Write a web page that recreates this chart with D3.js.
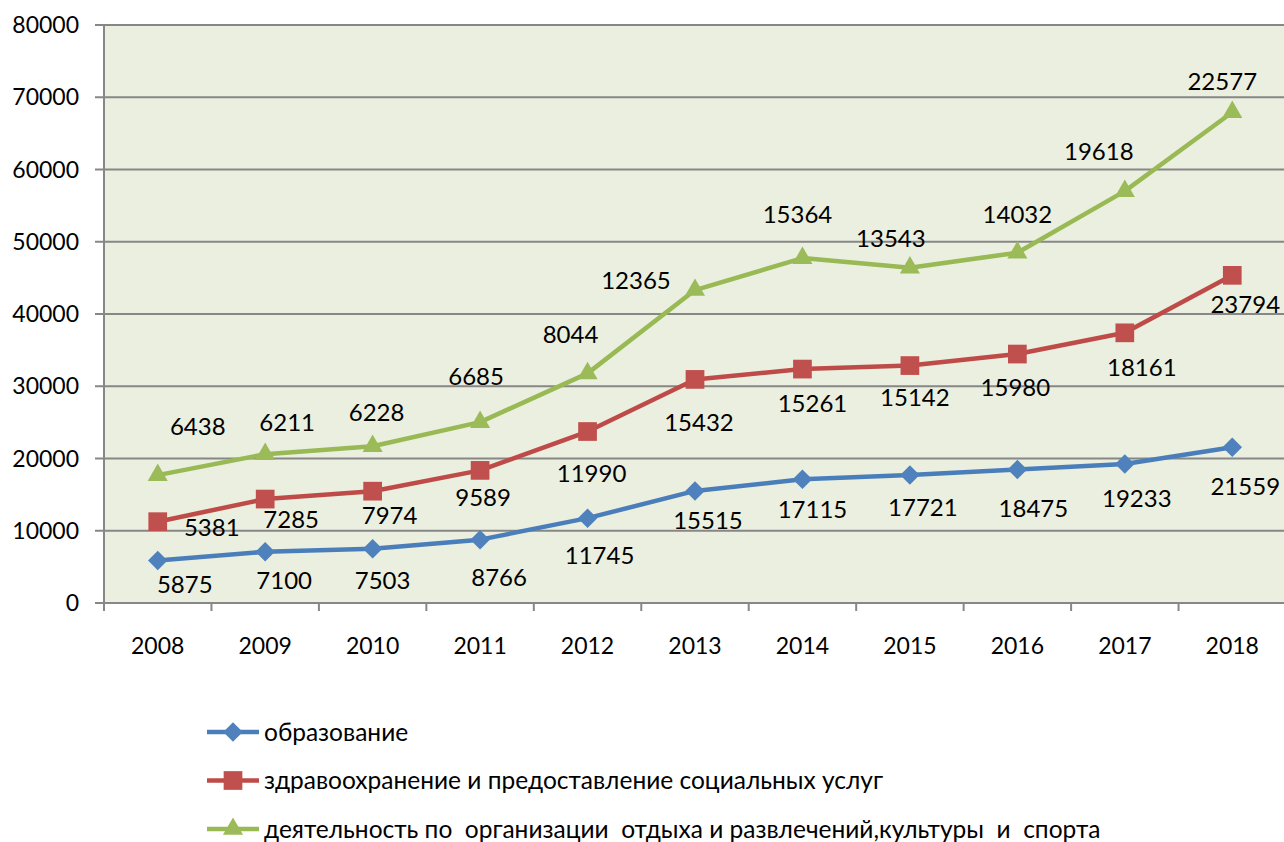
<!DOCTYPE html>
<html>
<head>
<meta charset="utf-8">
<script src="https://cdn.jsdelivr.net/npm/d3@7"></script>
<style>
  body { margin: 0; background: #fff; }
  text { font-family: Lato, "Open Sans", sans-serif; fill: #000; }
</style>
</head>
<body>
<script>
var years = ["2008", "2009", "2010", "2011", "2012", "2013", "2014", "2015", "2016", "2017", "2018"];
var education = [5875, 7100, 7503, 8766, 11745, 15515, 17115, 17721, 18475, 19233, 21559];
var health = [5381, 7285, 7974, 9589, 11990, 15432, 15261, 15142, 15980, 18161, 23794];
var leisure = [6438, 6211, 6228, 6685, 8044, 12365, 15364, 13543, 14032, 19618, 22577];
var seriesNames = [
    "образование",
    "здравоохранение и предоставление социальных услуг",
    "деятельность по  организации  отдыха и развлечений,культуры  и  спорта"
];
var yTicks = [0, 10000, 20000, 30000, 40000, 50000, 60000, 70000, 80000];

var colors = ["#4A7EBB", "#BE4B48", "#98B954"];
var markerFill = ["#4F81BD", "#C0504D", "#9BBB59"];

// where each value label sits relative to its marker (pixels)
var labelDx = [
    [27, 19, 10, 19, 12, 13, 10, 13, 16, 12, 13],
    [54, 26, 17, 3, 4, 4, 10, 5, -2, 17, 13],
    [40, 22, 4, -4, -17, -59, -5, -19, 0, -26, -10]
];
var labelDy = [
    [24, 29, 32, 38, 37, 30, 30, 33, 39, 35, 39],
    [6, 21, 24, 27, 42, 43, 35, 32, 34, 35, 29],
    [-49, -32, -34, -45, -39, -9, -43, -29, -38, -39, -31]
];

var diamond = d3.symbol().type(d3.symbolSquare).size(190);
var square = d3.symbol().type(d3.symbolSquare).size(350);
var triangle = d3.symbol().type(d3.symbolTriangle).size(175);
var markers = [diamond, square, triangle];
var rotate = [45, 0, 0];

var svg = d3.select("body").append("svg")
    .attr("width", 1284)
    .attr("height", 842);

var plotLeft = 104, plotRight = 1286, plotTop = 25, plotBottom = 603;

var x = d3.scaleBand()
    .domain(years)
    .range([plotLeft, plotRight]);

var y = d3.scaleLinear()
    .domain([0, 80000])
    .range([plotBottom, plotTop]);

// stacked values
var rows = years.map(function(yr, i) {
    return {year: yr, s0: education[i], s1: health[i], s2: leisure[i]};
});
var stack = d3.stack().keys(["s0", "s1", "s2"]);
var stacked = stack(rows);
var raw = [education, health, leisure];

svg.append("rect")
    .attr("x", plotLeft)
    .attr("y", plotTop)
    .attr("width", plotRight - plotLeft)
    .attr("height", plotBottom - plotTop)
    .attr("fill", "#EBEFDF");

// gridlines
svg.append("g")
    .selectAll("line")
    .data(yTicks)
    .enter().append("line")
        .attr("x1", plotLeft - 9)
        .attr("x2", plotRight)
        .attr("y1", function(d) { return y(d); })
        .attr("y2", function(d) { return y(d); })
        .attr("stroke", "#878787")
        .attr("stroke-width", 2);

svg.append("g")
    .selectAll("text")
    .data(yTicks)
    .enter().append("text")
        .attr("x", 79)
        .attr("y", function(d) { return y(d); })
        .attr("dy", "0.35em")
        .attr("text-anchor", "end")
        .style("font-size", "23px")
        .text(function(d) { return d; });

// y axis line
svg.append("line")
    .attr("x1", plotLeft).attr("x2", plotLeft)
    .attr("y1", plotTop).attr("y2", plotBottom)
    .attr("stroke", "#878787")
    .attr("stroke-width", 2);

// x ticks between categories
var xTickPos = years.map(function(d) { return x(d); }).concat([plotRight]);
svg.append("g")
    .selectAll("line")
    .data(xTickPos)
    .enter().append("line")
        .attr("x1", function(d) { return d; })
        .attr("x2", function(d) { return d; })
        .attr("y1", plotBottom)
        .attr("y2", plotBottom + 8)
        .attr("stroke", "#878787")
        .attr("stroke-width", 2);

svg.append("g")
    .selectAll("text")
    .data(years)
    .enter().append("text")
        .attr("x", function(d) { return x(d) + x.bandwidth() / 2; })
        .attr("y", 654)
        .attr("text-anchor", "middle")
        .style("font-size", "23px")
        .text(function(d) { return d; });

var cx = function(d) { return x(d.data.year) + x.bandwidth() / 2; };

var line = d3.line()
    .x(cx)
    .y(function(d) { return y(d[1]); });

stacked.forEach(function(layer, k) {
    var g = svg.append("g");

    g.append("path")
        .datum(layer)
        .attr("d", line)
        .attr("fill", "none")
        .attr("stroke", colors[k])
        .attr("stroke-width", 4.5)
        .attr("stroke-linejoin", "round");

    g.selectAll("path.marker")
        .data(layer)
        .enter().append("path")
            .attr("class", "marker")
            .attr("d", markers[k])
            .attr("transform", function(d) {
                return "translate(" + cx(d) + "," + y(d[1]) + ") rotate(" + rotate[k] + ")";
            })
            .attr("fill", markerFill[k]);

    g.selectAll("text")
        .data(layer)
        .enter().append("text")
            .attr("x", function(d, i) { return cx(d) + labelDx[k][i]; })
            .attr("y", function(d, i) { return y(d[1]) + labelDy[k][i]; })
            .attr("dy", "0.35em")
            .attr("text-anchor", "middle")
            .style("font-size", "24px")
            .text(function(d, i) { return raw[k][i]; });
});

// legend
var legend = svg.append("g");
seriesNames.forEach(function(name, k) {
    var ly = 732 + k * 48.5;
    legend.append("line")
        .attr("x1", 207).attr("x2", 259)
        .attr("y1", ly).attr("y2", ly)
        .attr("stroke", colors[k])
        .attr("stroke-width", 4.5);
    legend.append("path")
        .attr("d", markers[k])
        .attr("transform", "translate(233," + ly + ") rotate(" + rotate[k] + ")")
        .attr("fill", markerFill[k]);
    legend.append("text")
        .attr("x", 264)
        .attr("y", ly)
        .attr("dy", "0.35em")
        .style("font-size", "24.5px")
        .attr("xml:space", "preserve")
        .text(name);
});
</script>
</body>
</html>
